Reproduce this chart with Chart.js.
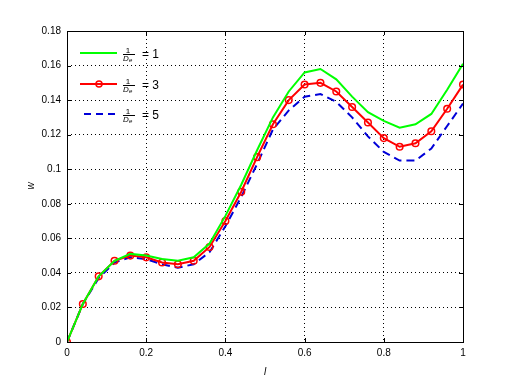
<!DOCTYPE html>
<html>
<head>
<meta charset="utf-8">
<script src="https://cdn.jsdelivr.net/npm/chart.js@4"></script>
<style>
  html, body { margin: 0; padding: 0; background: #fff; }
  #wrap { width: 512px; height: 384px; position: relative; }
</style>
</head>
<body>
<div id="wrap"><canvas id="chart" width="512" height="384"></canvas></div>
<script>
// sample positions along l
const lValues = [0, 0.04, 0.08, 0.12, 0.16, 0.2, 0.24, 0.28, 0.32, 0.36, 0.4, 0.44, 0.48,
  0.52, 0.56, 0.6, 0.64, 0.68, 0.72, 0.76, 0.8, 0.84, 0.88, 0.92, 0.96, 1];

// w for 1/De = 1, 3, 5
const wDe1 = [0, 0.022, 0.038, 0.047, 0.051, 0.050, 0.048, 0.047, 0.049, 0.057, 0.073, 0.091, 0.111,
  0.130, 0.145, 0.156, 0.158, 0.152, 0.142, 0.133, 0.128, 0.124, 0.126, 0.132, 0.146, 0.161];
const wDe3 = [0, 0.022, 0.038, 0.047, 0.050, 0.049, 0.046, 0.045, 0.047, 0.055, 0.070, 0.087, 0.107,
  0.126, 0.140, 0.149, 0.150, 0.145, 0.136, 0.127, 0.118, 0.113, 0.115, 0.122, 0.135, 0.149];
const wDe5 = [0, 0.022, 0.037, 0.046, 0.049, 0.048, 0.045, 0.043, 0.045, 0.052, 0.067, 0.084, 0.103,
  0.123, 0.134, 0.142, 0.1435, 0.139, 0.130, 0.119, 0.110, 0.105, 0.105, 0.112, 0.125, 0.138];

const deLabels = ['1', '3', '5'];
const xTicks = [0, 0.2, 0.4, 0.6, 0.8, 1];
const yTicks = [0, 0.02, 0.04, 0.06, 0.08, 0.1, 0.12, 0.14, 0.16, 0.18];

const GREEN = '#00ff00', RED = '#ff0000', BLUE = '#0000d8';
const FONT = 'Liberation Sans, Arial, Helvetica, sans-serif';

function toPoints(ys) {
  return ys.map((y, i) => ({ x: lValues[i], y: y }));
}

// box around the axes + axis labels + MATLAB style legend
const decorations = {
  id: 'decorations',
  afterDraw(chart) {
    const ctx = chart.ctx;
    const a = chart.chartArea;
    ctx.save();
    ctx.strokeStyle = '#000';
    ctx.lineWidth = 1;
    ctx.strokeRect(a.left + 0.5, a.top + 0.5, a.right - a.left, a.bottom - a.top);

    // small inward ticks
    const xs = chart.scales.x, ys = chart.scales.y;
    ctx.beginPath();
    xTicks.forEach(t => {
      const px = Math.round(xs.getPixelForValue(t)) + 0.5;
      ctx.moveTo(px, a.bottom); ctx.lineTo(px, a.bottom - 4);
      ctx.moveTo(px, a.top); ctx.lineTo(px, a.top + 4);
    });
    yTicks.forEach(t => {
      const py = Math.round(ys.getPixelForValue(t)) + 0.5;
      ctx.moveTo(a.left, py); ctx.lineTo(a.left + 4, py);
      ctx.moveTo(a.right, py); ctx.lineTo(a.right - 4, py);
    });
    ctx.stroke();

    // axis titles
    ctx.fillStyle = '#000';
    ctx.font = 'italic 10px ' + FONT;
    ctx.textAlign = 'center';
    ctx.textBaseline = 'middle';
    ctx.fillText('l', (a.left + a.right) / 2, 372);
    ctx.save();
    ctx.translate(31, 186);
    ctx.rotate(-Math.PI / 2);
    ctx.fillText('w', 0, 0);
    ctx.restore();

    // legend
    const rows = [53, 84, 114];
    const styles = [
      { color: GREEN, dash: [], marker: false },
      { color: RED, dash: [], marker: true },
      { color: BLUE, dash: [7, 5], marker: false }
    ];
    rows.forEach((y, i) => {
      const s = styles[i];
      ctx.strokeStyle = s.color;
      ctx.lineWidth = 2;
      ctx.setLineDash(s.dash);
      ctx.beginPath();
      ctx.moveTo(i === 2 ? 84 : 80, y);
      ctx.lineTo(117, y);
      ctx.stroke();
      ctx.setLineDash([]);
      if (s.marker) {
        ctx.lineWidth = 1.5;
        ctx.beginPath();
        ctx.arc(99, y, 3, 0, Math.PI * 2);
        ctx.stroke();
      }
      // fraction 1 / D_e
      ctx.fillStyle = '#000';
      ctx.lineWidth = 1;
      ctx.strokeStyle = '#000';
      ctx.font = '8px ' + FONT;
      ctx.textAlign = 'center';
      ctx.textBaseline = 'alphabetic';
      ctx.fillText('1', 128, y);
      ctx.beginPath();
      ctx.moveTo(123, y + 1.5);
      ctx.lineTo(135, y + 1.5);
      ctx.stroke();
      ctx.font = 'italic 8px ' + FONT;
      ctx.textAlign = 'left';
      ctx.fillText('D', 123, y + 8);
      ctx.font = 'italic 6px ' + FONT;
      ctx.fillText('e', 129, y + 9);
      ctx.font = '12px ' + FONT;
      ctx.textBaseline = 'middle';
      ctx.fillText('= ' + deLabels[i], 142, y + 2);
    });
    ctx.restore();
  }
};

const ctx = document.getElementById('chart').getContext('2d');
new Chart(ctx, {
  type: 'line',
  data: {
    datasets: [
      {
        label: '1/De = 1',
        data: toPoints(wDe1),
        borderColor: GREEN,
        borderWidth: 2,
        pointRadius: 0,
        fill: false
      },
      {
        label: '1/De = 3',
        data: toPoints(wDe3),
        borderColor: RED,
        borderWidth: 2,
        pointRadius: 3.3,
        pointBorderWidth: 1.5,
        pointBorderColor: RED,
        pointBackgroundColor: 'rgba(0,0,0,0)',
        fill: false
      },
      {
        label: '1/De = 5',
        data: toPoints(wDe5),
        borderColor: BLUE,
        borderWidth: 2,
        borderDash: [8, 5],
        pointRadius: 0,
        fill: false
      }
    ]
  },
  options: {
    responsive: false,
    animation: false,
    layout: { padding: { top: 31, right: 49, left: 0, bottom: 0 } },
    plugins: { legend: { display: false }, tooltip: { enabled: false } },
    scales: {
      x: {
        type: 'linear',
        min: 0,
        max: 1,
        afterFit(scale) { scale.height = 42; },
        afterBuildTicks(scale) { scale.ticks = xTicks.map(v => ({ value: v })); },
        grid: { color: '#000', lineWidth: 1, drawTicks: false },
        border: { display: false, dash: [1, 3] },
        ticks: {
          color: '#000',
          font: { family: FONT, size: 10 },
          padding: 5,
          maxRotation: 0,
          callback: v => String(v)
        }
      },
      y: {
        min: 0,
        max: 0.18,
        afterFit(scale) { scale.width = 67; },
        afterBuildTicks(scale) { scale.ticks = yTicks.map(v => ({ value: v })); },
        grid: { color: '#000', lineWidth: 1, drawTicks: false },
        border: { display: false, dash: [1, 3] },
        ticks: {
          color: '#000',
          font: { family: FONT, size: 10 },
          padding: 6,
          callback: v => String(v)
        }
      }
    }
  },
  plugins: [decorations]
});
</script>
</body>
</html>
